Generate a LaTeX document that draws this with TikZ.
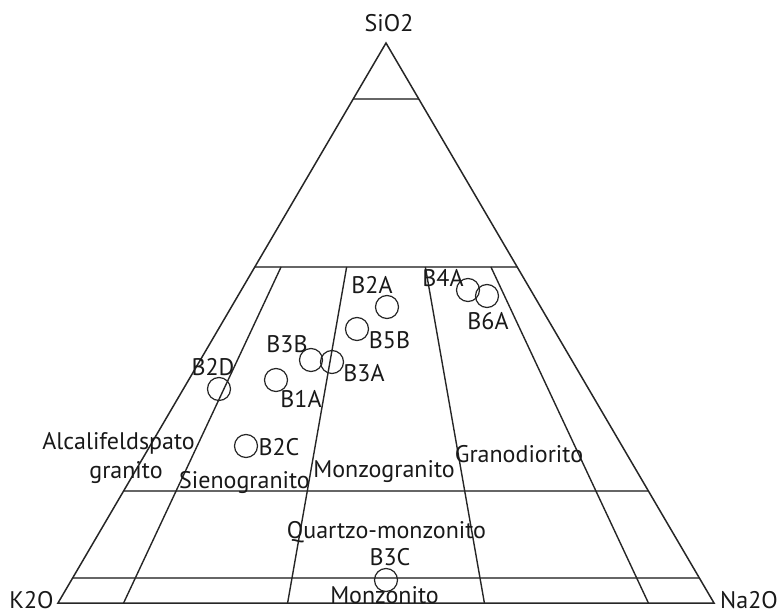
\documentclass[tikz,border=0pt]{standalone}
\usepackage{fontspec}
\setmainfont{PT Sans}
\usetikzlibrary{calc}
\begin{document}
\begin{tikzpicture}[x=1pt,y=-1pt,
  edge/.style={line width=1.5pt, black!85},
  level/.style={line width=1.9pt, black!60},
  div/.style={line width=1.4pt, black!85},
  sample/.style={circle, draw=black!85, line width=1.2pt, minimum size=23pt, inner sep=0pt},
  lbl/.style={font=\fontsize{24}{26}\selectfont, inner sep=0pt, text=black!90, anchor=base}]
\useasboundingbox (0,0) rectangle (780,615);
% vertices
\coordinate (A) at (58,603);
\coordinate (P) at (714,603);
\coordinate (Q) at (386,43);
% level lines (Q fractions)
\coordinate (L90) at ($(A)!0.9!(Q)$);
\coordinate (R90) at ($(P)!0.9!(Q)$);
\coordinate (L60) at ($(A)!0.6!(Q)$);
\coordinate (R60) at ($(P)!0.6!(Q)$);
\coordinate (L20) at ($(A)!0.2!(Q)$);
\coordinate (R20) at ($(P)!0.2!(Q)$);
\coordinate (L5) at ($(A)!0.045!(Q)$);
\coordinate (R5) at ($(P)!0.045!(Q)$);
% dividing lines
\coordinate (B10) at ($(A)!0.10!(P)$);
\coordinate (T10) at ($(L60)!0.10!(R60)$);
\coordinate (B35) at ($(A)!0.35!(P)$);
\coordinate (T35) at ($(L60)!0.35!(R60)$);
\coordinate (B65) at ($(A)!0.65!(P)$);
\coordinate (T65) at ($(L60)!0.65!(R60)$);
\coordinate (B90) at ($(A)!0.90!(P)$);
\coordinate (T90) at ($(L60)!0.90!(R60)$);

\draw[level] (L90) -- (R90);
\draw[level] (L60) -- (R60);
\draw[level] (L20) -- (R20);
\draw[level] (L5) -- (R5);
\draw[div] (B10) -- (T10);
\draw[div] (B35) -- (T35);
\draw[div] (B65) -- (T65);
\draw[div] (B90) -- (T90);
\draw[edge, line join=miter] (A) -- (Q) -- (P) -- cycle;

% corner labels
\node[lbl] (lsio) at (389,32) {SiO2};
\node[lbl] (lk) at (31.5,608) {K2O};
\node[lbl] (lna) at (749,608) {Na2O};

% field labels
\node[lbl] (f1) at (118.5,449) {Alcalifeldspato};
\node[lbl] (f2) at (126,478) {granito};
\node[lbl] (f3) at (244.5,488) {Sienogranito};
\node[lbl] (f4) at (384,477) {Monzogranito};
\node[lbl] (f5) at (519,462) {Granodiorito};
\node[lbl] (f6) at (386.5,538) {Quartzo-monzonito};
\node[lbl] (f7) at (384.5,603) {Monzonito};

% samples
\node[sample] (s2a) at (387,307) {};
\node[sample] (s5b) at (357,329) {};
\node[sample] (s3b) at (311,360) {};
\node[sample] (s3a) at (332,362) {};
\node[sample] (s1a) at (276,380) {};
\node[sample] (s2d) at (219,389) {};
\node[sample] (s2c) at (246,446) {};
\node[sample] (s4a) at (468,290) {};
\node[sample] (s6a) at (487,296) {};
\node[sample] (s3c) at (386,580) {};

\node[lbl] (t2a) at (372,293) {B2A};
\node[lbl] (t5b) at (389.5,348) {B5B};
\node[lbl] (t3b) at (287,352) {B3B};
\node[lbl] (t3a) at (364,381) {B3A};
\node[lbl] (t1a) at (301,407) {B1A};
\node[lbl] (t2d) at (213,375) {B2D};
\node[lbl] (t2c) at (279,455) {B2C};
\node[lbl] (t4a) at (443,287) {B4A};
\node[lbl] (t6a) at (488,329) {B6A};
\node[lbl] (t3c) at (390,565) {B3C};
\end{tikzpicture}
\end{document}
